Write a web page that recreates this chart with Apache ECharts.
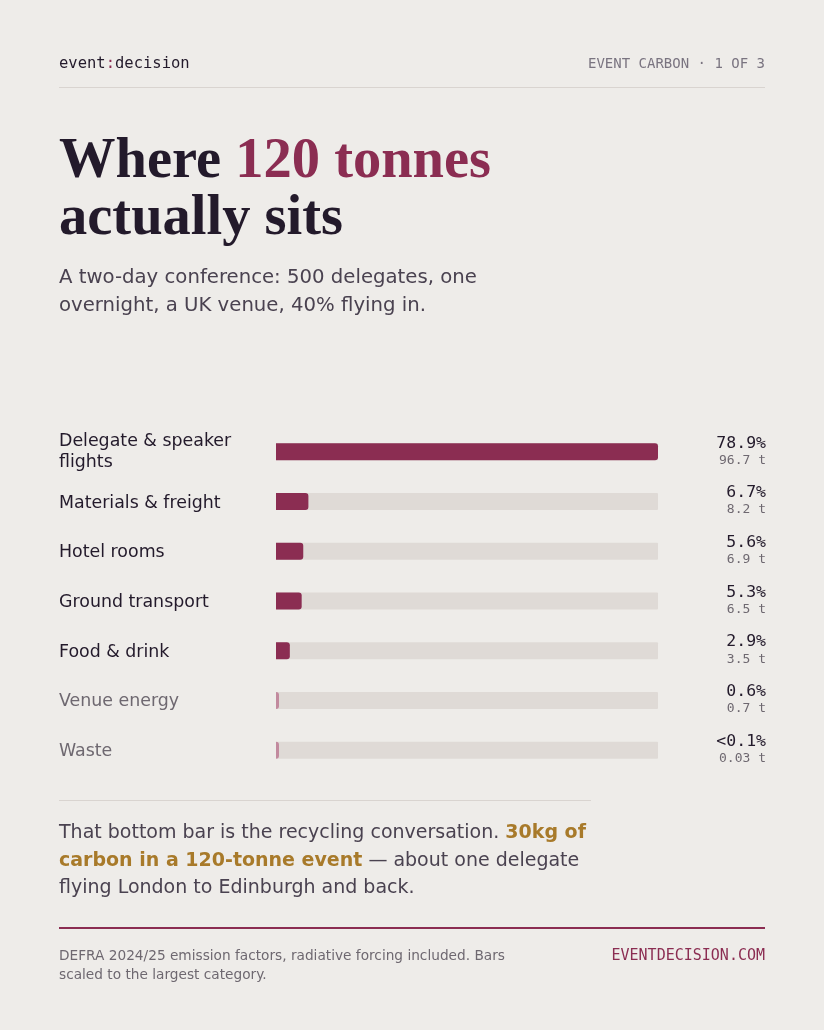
<!DOCTYPE html>
<html>
<head>
<meta charset="utf-8">
<script src="https://cdn.jsdelivr.net/npm/echarts@6/dist/echarts.min.js"></script>
<style>
html,body{margin:0;padding:0;background:#eeece9;}
#chart{width:824px;height:1030px;}
</style>
</head>
<body>
<div id="chart"></div>
<script>
const categories = ['Delegate & speaker\nflights', 'Materials & freight', 'Hotel rooms', 'Ground transport', 'Food & drink', 'Venue energy', 'Waste'];
const tonnes = [96.7, 8.2, 6.9, 6.5, 3.5, 0.7, 0.03];
const shareLabels = ['78.9%', '6.7%', '5.6%', '5.3%', '2.9%', '0.6%', '<0.1%'];
const minorFrom = 5; // index from which categories are shown muted

const MAROON = '#8b2d52', MUTED_BAR = '#c28a9e', TRACK = '#dfdad6';
const DARK = '#231a2b', BODY = '#4a4250', GREY = '#6e6870', GOLD = '#a87a2a';
const SANS = '"DejaVu Sans", sans-serif', MONO = '"DejaVu Sans Mono", monospace', SERIF = '"Liberation Serif", serif';

const chart = echarts.init(document.getElementById('chart'), null, {renderer: 'canvas'});

const barData = tonnes.map((v, i) => ({
  value: v,
  itemStyle: {color: i >= minorFrom ? MUTED_BAR : MAROON}
}));

chart.setOption({
  backgroundColor: '#eeece9',
  animation: false,
  grid: {left: 276, right: 166, top: 427, height: 348},
  xAxis: {
    type: 'value', min: 0, max: Math.max(...tonnes),
    show: false
  },
  yAxis: [{
    type: 'category', data: categories, inverse: true,
    axisLine: {show: false}, axisTick: {show: false}, splitLine: {show: false},
    axisLabel: {
      margin: 217, align: 'left',
      formatter: (v, i) => {
        if (i >= minorFrom) return '{m|' + v + '}';
        if (v.indexOf('\n') >= 0) return '{f|' + v.split('\n').join('}\n{f|') + '}';
        return '{n|' + v + '}';
      },
      rich: {
        f: {fontFamily: SANS, fontSize: 17.4, color: DARK, lineHeight: 21},
        n: {fontFamily: SANS, fontSize: 17.4, color: DARK, lineHeight: 21, padding: [3, 0, 0, 0]},
        m: {fontFamily: SANS, fontSize: 17.4, color: GREY, lineHeight: 21, padding: [3, 0, 0, 0]}
      }
    }
  }, {
    type: 'category', data: categories, inverse: true, position: 'right',
    axisLine: {show: false}, axisTick: {show: false}, splitLine: {show: false},
    axisLabel: {
      margin: 108, align: 'right',
      formatter: (v, i) => '{p|' + shareLabels[i] + '}\n{t|' + tonnes[i] + ' t}',
      rich: {
        p: {fontFamily: MONO, fontSize: 16.5, color: DARK, lineHeight: 17, align: 'right'},
        t: {fontFamily: MONO, fontSize: 13, color: GREY, lineHeight: 17, align: 'right'}
      }
    }
  }],
  series: [{
    type: 'bar', data: barData, barWidth: 17, barMinHeight: 3,
    showBackground: true,
    backgroundStyle: {color: TRACK, borderRadius: 1},
    itemStyle: {borderRadius: [0, 3, 3, 0]},
    silent: true
  }],
  graphic: [
    // header
    {type: 'text', x: 59, y: 64, style: {
      text: '{a|event}{c|:}{a|decision}', verticalAlign: 'middle',
      rich: {a: {fontFamily: MONO, fontSize: 15.5, fill: DARK}, c: {fontFamily: MONO, fontSize: 15.5, fill: MAROON}}
    }},
    {type: 'text', x: 765, y: 64, style: {
      text: 'EVENT CARBON · 1 OF 3', verticalAlign: 'middle', align: 'right',
      fontFamily: MONO, fontSize: 14, fill: '#7a7480'
    }},
    {type: 'rect', shape: {x: 59, y: 87, width: 706, height: 1}, style: {fill: '#d9d4d0'}},
    // title
    {type: 'text', x: 59, y: 162, style: {
      text: '{a|Where }{b|120 tonnes}', verticalAlign: 'middle',
      rich: {a: {fontFamily: SERIF, fontWeight: 'bold', fontSize: 56.5, fill: DARK},
             b: {fontFamily: SERIF, fontWeight: 'bold', fontSize: 56.5, fill: MAROON}}
    }},
    {type: 'text', x: 59, y: 219, style: {
      text: 'actually sits', verticalAlign: 'middle',
      fontFamily: SERIF, fontWeight: 'bold', fontSize: 56.5, fill: DARK
    }},
    // subtitle
    {type: 'text', x: 59, y: 278, style: {
      text: 'A two-day conference: 500 delegates, one', verticalAlign: 'middle',
      fontFamily: SANS, fontSize: 19.7, fill: BODY
    }},
    {type: 'text', x: 59, y: 306, style: {
      text: 'overnight, a UK venue, 40% flying in.', verticalAlign: 'middle',
      fontFamily: SANS, fontSize: 19.7, fill: BODY
    }},
    // divider under chart
    {type: 'rect', shape: {x: 59, y: 800, width: 532, height: 1}, style: {fill: '#d9d4d0'}},
    // paragraph
    {type: 'text', x: 59, y: 833, style: {
      text: '{r|That bottom bar is the recycling conversation. }{b|30kg of}', verticalAlign: 'middle',
      rich: {r: {fontFamily: SANS, fontSize: 19, fill: BODY}, b: {fontFamily: SANS, fontSize: 19, fontWeight: 'bold', fill: GOLD}}
    }},
    {type: 'text', x: 59, y: 861, style: {
      text: '{b|carbon in a 120-tonne event}{r| — about one delegate}', verticalAlign: 'middle',
      rich: {r: {fontFamily: SANS, fontSize: 19, fill: BODY}, b: {fontFamily: SANS, fontSize: 19, fontWeight: 'bold', fill: GOLD}}
    }},
    {type: 'text', x: 59, y: 888, style: {
      text: 'flying London to Edinburgh and back.', verticalAlign: 'middle',
      fontFamily: SANS, fontSize: 19, fill: BODY
    }},
    // footer
    {type: 'rect', shape: {x: 59, y: 927, width: 706, height: 2}, style: {fill: MAROON}},
    {type: 'text', x: 59, y: 956, style: {
      text: 'DEFRA 2024/25 emission factors, radiative forcing included. Bars', verticalAlign: 'middle',
      fontFamily: SANS, fontSize: 13.7, fill: GREY
    }},
    {type: 'text', x: 59, y: 975, style: {
      text: 'scaled to the largest category.', verticalAlign: 'middle',
      fontFamily: SANS, fontSize: 13.7, fill: GREY
    }},
    {type: 'text', x: 765, y: 956, style: {
      text: 'EVENTDECISION.COM', verticalAlign: 'middle', align: 'right',
      fontFamily: MONO, fontSize: 15, fill: MAROON
    }}
  ]
});
</script>
</body>
</html>
